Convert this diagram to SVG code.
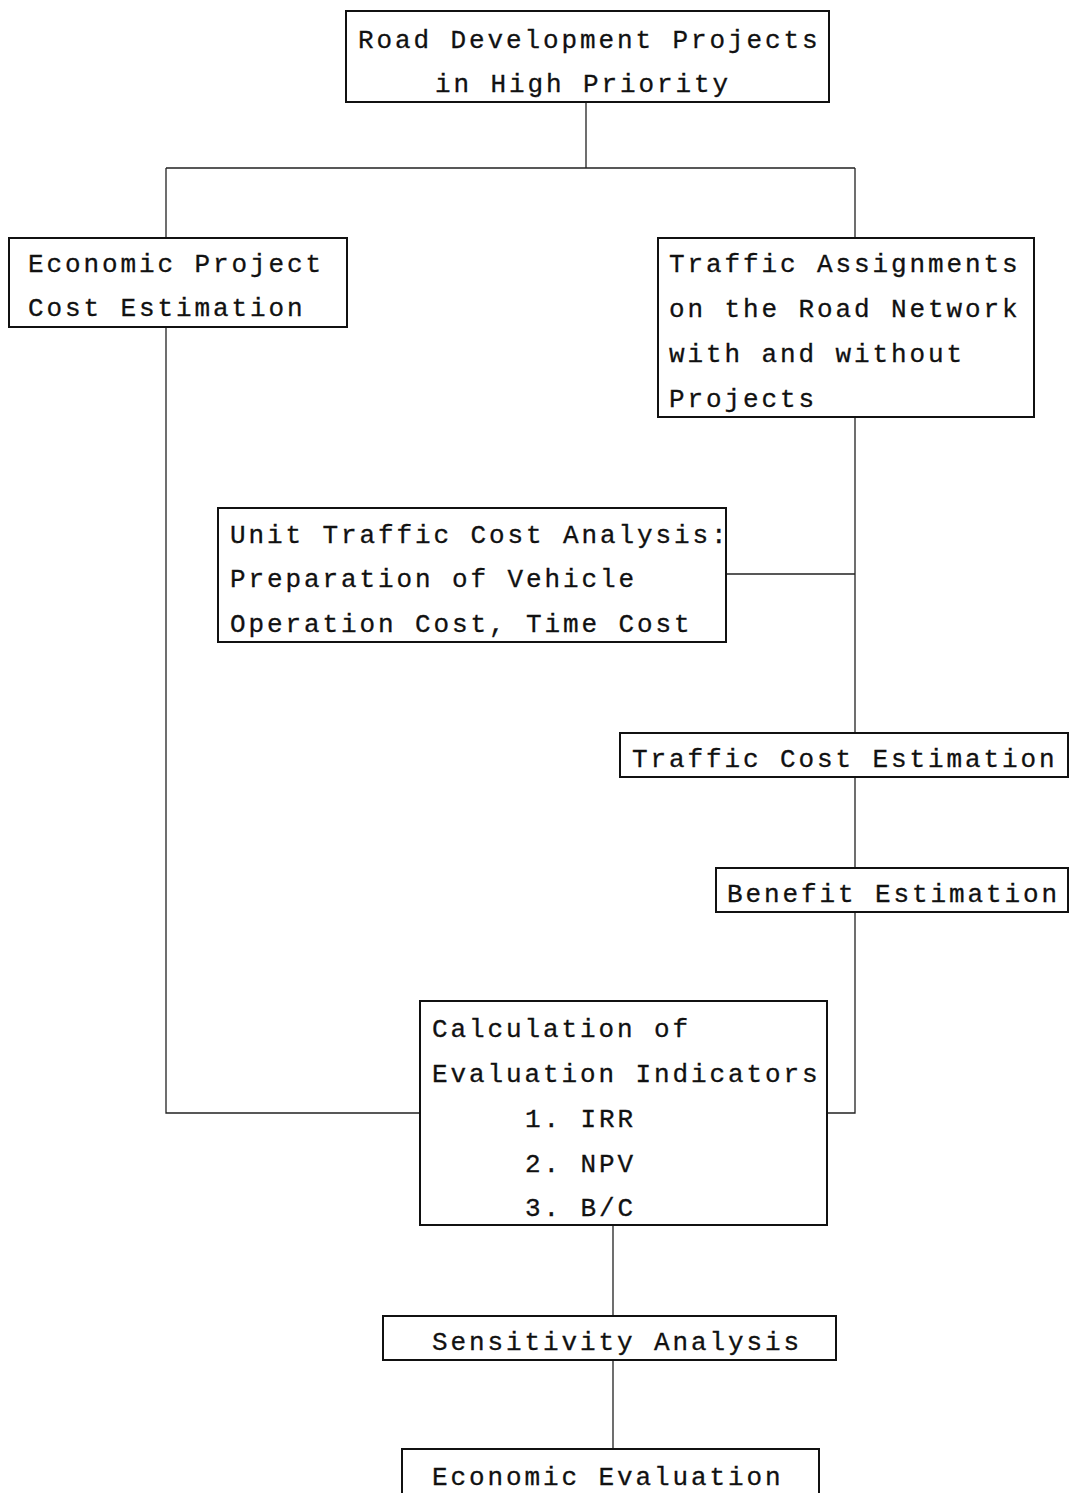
<svg xmlns="http://www.w3.org/2000/svg" width="1070" height="1493" viewBox="0 0 1070 1493">
<style>
.box{fill:#fff;stroke:#111;stroke-width:2}
.t{font-family:"Liberation Mono","DejaVu Sans Mono",monospace;font-size:26px;letter-spacing:2.9px;fill:#111;stroke:#111;stroke-width:0.3}
.c{fill:none;stroke:#222;stroke-width:1.3}
</style>
<rect width="1070" height="1493" fill="#fff"/>
<g id="connectors">
<path class="c" d="M586,102 V168 M166,168 H855 M166,168 V238 M855,168 V238"/>
<path class="c" d="M855,417 V733 M726,574 H855 M855,777 V868 M855,912 V1113 H827"/>
<path class="c" d="M166,327 V1113 H420"/>
<path class="c" d="M613,1225 V1316 M613,1360 V1449"/>
</g>
<g id="n1"><rect class="box" x="346" y="11" width="483" height="91"/>
<text class="t" x="358" y="48">Road Development Projects</text>
<text class="t" x="435" y="92">in High Priority</text></g>
<g id="n2"><rect class="box" x="9" y="238" width="338" height="89"/>
<text class="t" x="28" y="272">Economic Project</text>
<text class="t" x="28" y="316">Cost Estimation</text></g>
<g id="n3"><rect class="box" x="658" y="238" width="376" height="179"/>
<text class="t" x="669" y="272">Traffic Assignments</text>
<text class="t" x="669" y="317">on the Road Network</text>
<text class="t" x="669" y="362">with and without</text>
<text class="t" x="669" y="407">Projects</text></g>
<g id="n4"><rect class="box" x="218" y="508" width="508" height="134"/>
<text class="t" x="230" y="543">Unit Traffic Cost Analysis:</text>
<text class="t" x="230" y="587">Preparation of Vehicle</text>
<text class="t" x="230" y="632">Operation Cost, Time Cost</text></g>
<g id="n5"><rect class="box" x="620" y="733" width="448" height="44"/>
<text class="t" x="632" y="767">Traffic Cost Estimation</text></g>
<g id="n6"><rect class="box" x="716" y="868" width="352" height="44"/>
<text class="t" x="727" y="902">Benefit Estimation</text></g>
<g id="n7"><rect class="box" x="420" y="1001" width="407" height="224"/>
<text class="t" x="432" y="1037">Calculation of</text>
<text class="t" x="432" y="1082">Evaluation Indicators</text>
<text class="t" x="525" y="1127">1. IRR</text>
<text class="t" x="525" y="1172">2. NPV</text>
<text class="t" x="525" y="1216">3. B/C</text></g>
<g id="n8"><rect class="box" x="383" y="1316" width="453" height="44"/>
<text class="t" x="432" y="1350">Sensitivity Analysis</text></g>
<g id="n9"><rect class="box" x="402" y="1449" width="417" height="60"/>
<text class="t" x="432" y="1485">Economic Evaluation</text></g>
</svg>
